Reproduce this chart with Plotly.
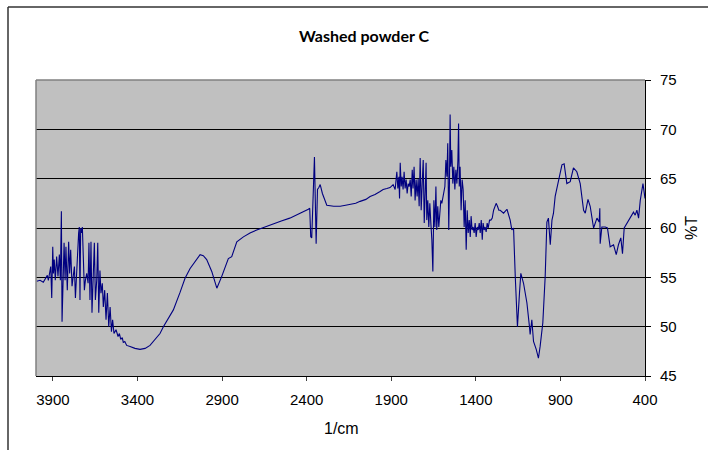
import plotly.graph_objects as go

# FTIR spectrum of washed powder C: wavenumber (1/cm) and transmittance (%T)
wavenumber = [
    3996, 3976, 3957, 3941, 3933, 3927, 3921, 3913, 3907, 3901,
    3897, 3892, 3886, 3878, 3870, 3862, 3856, 3850, 3846, 3840,
    3834, 3828, 3823, 3815, 3807, 3801, 3795, 3787, 3779, 3773,
    3767, 3759, 3754, 3748, 3744, 3740, 3736, 3730, 3726, 3720,
    3714, 3708, 3700, 3692, 3687, 3681, 3675, 3669, 3661, 3655,
    3649, 3641, 3635, 3629, 3622, 3616, 3608, 3602, 3594, 3586,
    3578, 3570, 3562, 3554, 3547, 3539, 3527, 3520, 3515, 3507,
    3499, 3490, 3484, 3475, 3464, 3444, 3415, 3385, 3355, 3326,
    3296, 3267, 3247, 3218, 3188, 3148, 3119, 3089, 3060, 3030,
    3011, 2991, 2961, 2931, 2902, 2863, 2843, 2813, 2774, 2735,
    2695, 2650, 2600, 2550, 2500, 2450, 2420, 2390, 2382, 2376,
    2370, 2364, 2354, 2344, 2336, 2328, 2320, 2307, 2291, 2281,
    2240, 2202, 2170, 2143, 2110, 2084, 2050, 2025, 1996, 1966,
    1948, 1926, 1907, 1889, 1877, 1867, 1861, 1855, 1851,
    1847, 1841, 1836, 1830, 1824, 1818, 1812, 1806, 1800, 1794,
    1788, 1782, 1776, 1771, 1765, 1759, 1753, 1747, 1741, 1735,
    1729, 1723, 1717, 1711, 1705, 1700, 1694, 1690, 1684, 1678,
    1672, 1666, 1660, 1654, 1648, 1642, 1636, 1631, 1625, 1619,
    1613, 1607, 1601, 1595, 1589, 1583, 1577, 1571, 1566, 1560,
    1556, 1552, 1548, 1542, 1536, 1530, 1524, 1518, 1512, 1506,
    1502, 1498, 1493, 1487, 1481, 1475, 1469, 1463, 1457, 1451,
    1445, 1439, 1433, 1428, 1422, 1416, 1410, 1404, 1398, 1392,
    1386, 1380, 1374, 1368, 1362, 1357, 1351, 1345, 1339, 1333,
    1327, 1319, 1311, 1303, 1295, 1286, 1280, 1272, 1264,
    1256, 1236, 1216, 1197, 1187, 1177, 1167, 1157, 1154, 1142,
    1134, 1118, 1098, 1083, 1079, 1069, 1059, 1043, 1030, 1020,
    1004, 990, 980, 971, 960, 950, 941, 931, 911, 891,
    878, 862, 842, 823, 803, 783, 763, 753, 737, 724,
    704, 684, 671, 667, 665, 655, 635, 622, 606, 586,
    570, 557, 543, 533, 523, 507, 487, 468, 458, 448,
    438, 428, 412, 405, 400,
]

transmittance = [
    54.6, 54.7, 54.5, 54.9, 55.2, 54.7, 55.4, 56.1, 52.9, 58.1,
    55.4, 56.8, 54.7, 57.1, 55.1, 57.3, 54.7, 61.7, 50.5, 56.1,
    58.5, 54.7, 58.1, 53.7, 58.6, 55.4, 57.8, 54.1, 55.7, 56.1,
    52.9, 56.1, 58.5, 59.5, 60.1, 52.7, 60.0, 59.5, 60.1, 55.7,
    53.7, 54.7, 55.4, 54.4, 58.5, 52.7, 58.6, 51.4, 55.7, 58.5,
    52.7, 54.7, 58.5, 51.4, 55.7, 53.4, 54.4, 52.0, 53.7, 50.7,
    53.4, 50.0, 52.0, 49.5, 50.7, 49.3, 49.7, 49.2, 49.0, 49.3,
    48.7, 48.9, 48.4, 48.5, 48.1, 48.0, 47.8, 47.7, 47.8, 48.1,
    48.7, 49.3, 50.0, 50.9, 51.7, 53.5, 54.9, 55.9, 56.6, 57.3,
    57.2, 56.8, 55.6, 53.9, 55.1, 56.9, 57.1, 58.6, 59.1, 59.5,
    59.8, 60.1, 60.4, 60.7, 61.0, 61.4, 61.6, 61.9, 62.0, 59.1,
    59.0, 62.8, 67.2, 58.4, 63.9, 64.1, 64.4, 63.5, 62.8, 62.3,
    62.2, 62.2, 62.3, 62.4, 62.5, 62.7, 62.9, 63.2, 63.4, 63.7,
    63.9, 64.0, 64.1, 64.4, 63.9, 65.7, 64.0, 65.2, 63.0,
    66.6, 64.2, 65.2, 63.9, 65.7, 64.0, 64.9, 63.5, 64.5, 64.2,
    64.9, 63.2, 65.9, 64.0, 66.2, 62.8, 64.9, 63.2, 65.0, 62.2,
    67.1, 61.8, 64.5, 66.9, 60.5, 64.2, 66.6, 60.8, 62.8, 60.1,
    62.5, 60.5, 58.8, 55.6, 62.8, 60.1, 64.2, 59.8, 62.2, 60.1,
    61.5, 62.8, 62.5, 63.2, 63.9, 64.2, 66.9, 65.2, 68.6, 59.8,
    64.5, 71.5, 66.2, 67.9, 64.5, 66.2, 63.9, 65.9, 64.5, 66.9,
    70.6, 64.2, 66.2, 61.8, 64.9, 63.9, 60.1, 62.8, 57.8, 61.8,
    59.5, 60.8, 59.1, 61.2, 59.8, 60.1, 59.5, 60.5, 59.1, 60.1,
    59.8, 60.5, 59.5, 60.8, 58.8, 60.5, 59.8, 60.1, 59.6, 60.5,
    60.0, 60.8, 60.8, 61.0, 61.8, 62.2, 62.5, 62.2, 61.8,
    61.8, 61.5, 61.9, 60.8, 59.8, 60.0, 55.1, 50.4, 50.0, 53.4,
    55.4, 54.4, 52.4, 50.0, 49.2, 50.7, 48.5, 47.7, 46.8, 48.0,
    50.4, 55.1, 60.6, 61.0, 58.3, 60.8, 61.5, 63.2, 64.9, 66.4,
    66.5, 64.5, 64.7, 66.1, 65.7, 64.5, 61.8, 61.5, 62.9, 62.2,
    60.0, 61.0, 60.6, 62.0, 58.4, 60.1, 60.1, 60.0, 58.1, 58.3,
    57.3, 58.3, 59.0, 57.4, 60.0, 60.5, 61.1, 61.6, 61.3, 61.8,
    61.0, 62.8, 64.5, 63.5, 63.0,
]

x_ticks = [3900, 3400, 2900, 2400, 1900, 1400, 900, 400]
y_ticks = [45, 50, 55, 60, 65, 70, 75]

W, H = 708, 450
ML, MR, MT, MB = 36, 63, 80, 74
PW, PH = W - ML - MR, H - MT - MB


def px_x(px):
    return (px - ML) / PW


def px_y(py):
    return (H - MB - py) / PH


sans = "Liberation Sans Narrow, Liberation Sans, Arial, sans-serif"
tick_font = dict(family=sans, size=15, color="black")

fig = go.Figure()
fig.add_trace(go.Scatter(
    x=wavenumber, y=transmittance, mode="lines",
    line=dict(color="#000080", width=1.1),
    showlegend=False, hoverinfo="skip",
))

fig.update_layout(
    width=W, height=H, autosize=False,
    margin=dict(l=ML, r=MR, t=MT, b=MB, pad=0),
    paper_bgcolor="white",
    plot_bgcolor="#C0C0C0",
    showlegend=False,
    font=dict(family=sans, size=14, color="black"),
    xaxis=dict(
        range=[4000, 400], tickvals=x_ticks, ticktext=[str(v) for v in x_ticks],
        ticks="outside", ticklen=4, tickcolor="#404040", tickwidth=1,
        showline=True, linecolor="black", linewidth=1,
        showgrid=False, zeroline=False, tickfont=tick_font,
        ticklabelstandoff=6,
    ),
    yaxis=dict(
        side="right", range=[45, 75], tickvals=y_ticks,
        ticks="outside", ticklen=5, tickcolor="black", tickwidth=1,
        showline=True, linecolor="black", linewidth=1,
        showgrid=True, gridcolor="black", gridwidth=1,
        zeroline=False, tickfont=tick_font, ticklabelstandoff=6,
    ),
    shapes=[
        # gray plot-area frame on the top and left sides
        dict(type="line", xref="paper", yref="paper", x0=0, x1=1, y0=1, y1=1,
             line=dict(color="#808080", width=1.5), layer="above"),
        dict(type="line", xref="paper", yref="paper", x0=0, x1=0, y0=0, y1=1,
             line=dict(color="#808080", width=1.5), layer="above"),
        # chart-area border
        dict(type="line", xref="paper", yref="paper",
             x0=px_x(8), x1=px_x(760), y0=px_y(7), y1=px_y(7),
             line=dict(color="#333333", width=1.5), layer="above"),
        dict(type="line", xref="paper", yref="paper",
             x0=px_x(8), x1=px_x(8), y0=px_y(7), y1=px_y(500),
             line=dict(color="#333333", width=1.5), layer="above"),
    ],
    annotations=[
        dict(text="<b>Washed powder C</b>", xref="paper", yref="paper",
             x=px_x(364), y=px_y(35), showarrow=False,
             xanchor="center", yanchor="middle",
             font=dict(family="Lato, Carlito, sans-serif", size=16, color="black")),
        dict(text="1/cm", xref="paper", yref="paper",
             x=px_x(341), y=px_y(428), showarrow=False,
             xanchor="center", yanchor="middle",
             font=dict(family=sans, size=16, color="black")),
        dict(text="%T", xref="paper", yref="paper",
             x=px_x(691), y=px_y(228), showarrow=False, textangle=-90,
             xanchor="center", yanchor="middle",
             font=dict(family=sans, size=16, color="black")),
    ],
)

fig.write_html("out.html")
